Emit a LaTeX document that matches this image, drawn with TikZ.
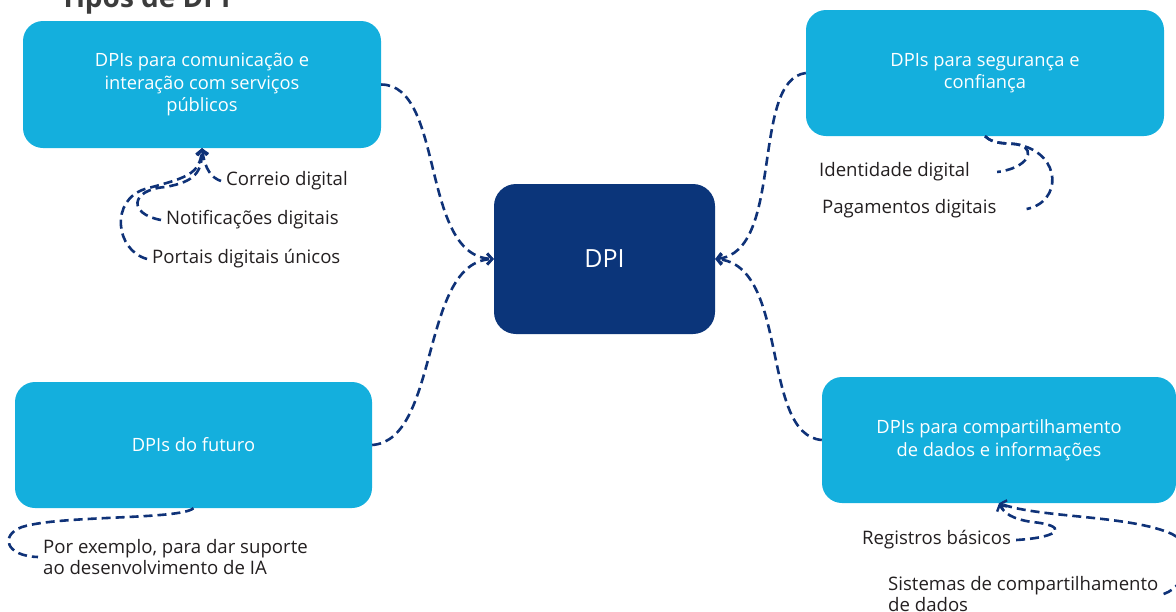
\documentclass[tikz,border=0pt]{standalone}
\usepackage{fontspec}
\setmainfont{Open Sans}
\usetikzlibrary{arrows.meta}
\definecolor{lightblue}{RGB}{20,175,221}
\definecolor{navy}{RGB}{11,53,122}
\definecolor{linecol}{RGB}{15,50,120}
\definecolor{txt}{RGB}{35,31,32}
\definecolor{titlegrey}{RGB}{60,60,60}
\tikzset{
  lbox/.style={fill=lightblue, rounded corners=20pt, text=white, align=center,
    font=\fontsize{18.3}{22.5}\selectfont, inner sep=0pt},
  mbox/.style={fill=navy, rounded corners=22pt, text=white,
    font=\fontsize{25}{30}\selectfont, inner sep=0pt},
  conn/.style={draw=linecol, line width=2.6pt, dash pattern=on 9pt off 5pt},
  arrowend/.style={-{Straight Barb[length=5pt,width=11pt,line width=2.4pt]}},
  lab/.style={text=txt, font=\fontsize{18.6}{21}\selectfont, inner xsep=5pt, inner ysep=0pt, align=left, anchor=west}
}
\begin{document}
\begin{tikzpicture}[x=1pt,y=-1pt]
\useasboundingbox (0,0) rectangle (1176,611);
\node[anchor=base west, font=\bfseries\fontsize{28}{32}\selectfont, text=titlegrey, inner sep=0pt] (title) at (60,7) {Tipos de DPI};

\node[lbox, minimum width=358pt, minimum height=127pt] (A) at (202,84.5) {DPIs para comunicação e\\interação com serviços\\públicos};
\node[lbox, minimum width=358pt, minimum height=126pt] (B) at (985,73) {DPIs para segurança e\\confiança};
\node[lbox, minimum width=357pt, minimum height=126pt] (C) at (193.5,445) {DPIs do futuro};
\node[lbox, minimum width=354pt, minimum height=126pt] (D) at (999,440) {DPIs para compartilhamento\\de dados e informações};
\node[mbox, minimum width=221pt, minimum height=150pt] (M) at (604.5,259) {DPI};

\node[lab] (cor) at (221,181) {Correio digital};
\node[lab] (not) at (161,220) {Notificações digitais};
\node[lab] (por) at (147,259) {Portais digitais únicos};
\node[lab] (ide) at (814,172) {Identidade digital};
\node[lab] (pag) at (817,209) {Pagamentos digitais};
\node[lab] (ex) at (38,557) {Por exemplo, para dar suporte\\ao desenvolvimento de IA};
\node[lab] (reg) at (857,540) {Registros básicos};
\node[lab] (sis) at (883,594) {Sistemas de compartilhamento\\de dados};

\draw[conn, arrowend] (A.east) .. controls (445,85) and (420,256) .. (M.west);
\draw[conn, arrowend] (C.east) .. controls (440,440) and (420,262) .. (M.west);
\draw[conn, arrowend] (B.west) .. controls (750,80) and (785,252) .. (M.east);
\draw[conn, arrowend] (D.west) .. controls (760,435) and (790,265) .. (M.east);

\draw[conn, arrowend] (cor.west) .. controls (212,178) and (205,170) .. (A.south);
\draw[conn, arrowend] (not.west) .. controls (128,214) and (130,190) .. (165,187) .. controls (195,182) and (202,172) .. (A.south);
\draw[conn, arrowend] (por.west) .. controls (115,250) and (110,200) .. (145,189) .. controls (185,178) and (200,175) .. (A.south);

\draw[conn] (B.south) .. controls (995,146) and (1010,142) .. (1020,145) .. controls (1036,150) and (1028,168) .. ([xshift=22pt]ide.east);
\draw[conn] (B.south) .. controls (995,146) and (1010,142) .. (1020,145) .. controls (1062,155) and (1062,202) .. ([xshift=25pt]pag.east);

\draw[conn] (C.south) .. controls (180,520) and (60,515) .. (22,527) .. controls (0,535) and (5,556) .. (ex.west);

\draw[conn, arrowend] (reg.east) .. controls (1065,537) and (1066,525) .. (1032,522) .. controls (1012,519) and (1004,513) .. (D.south);
\draw[conn, arrowend] (sis.east) .. controls (1190,585) and (1195,545) .. (1172,534) .. controls (1130,515) and (1040,518) .. (D.south);
\end{tikzpicture}
\end{document}
